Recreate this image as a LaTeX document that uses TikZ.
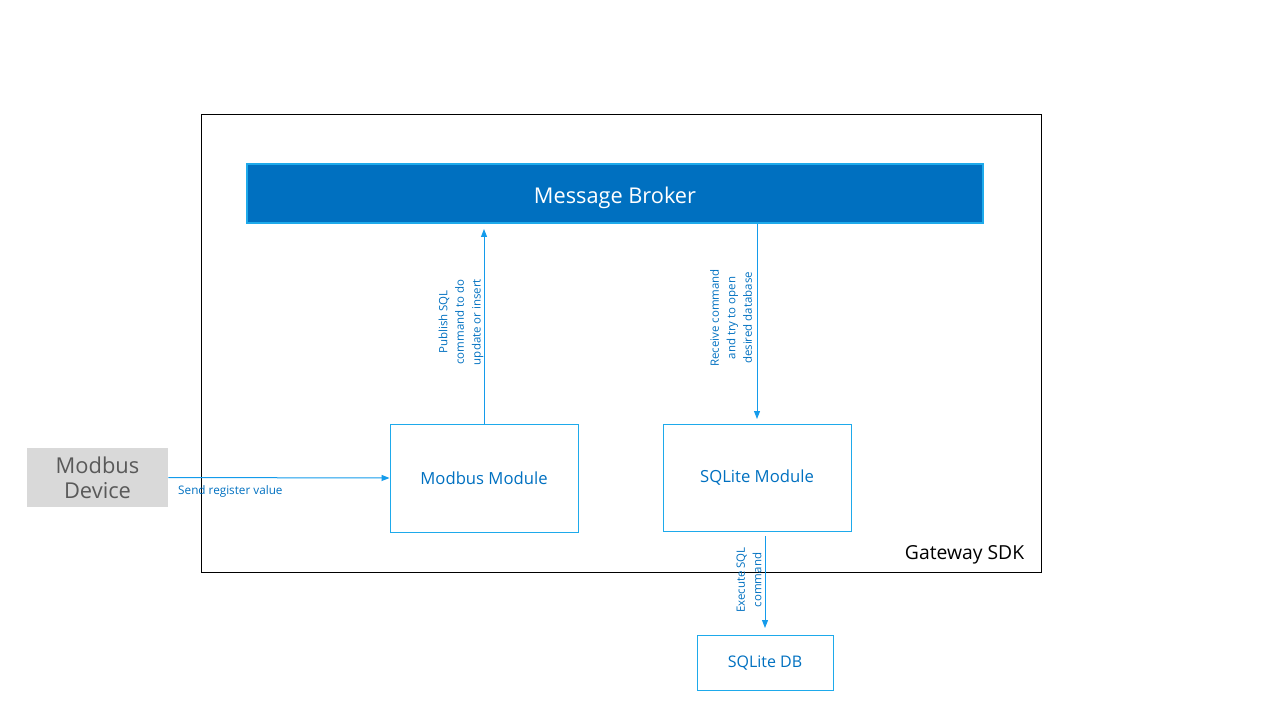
\documentclass[tikz,border=0pt]{standalone}
\usepackage{fontspec}
\setmainfont{Open Sans}
\usetikzlibrary{arrows.meta,shapes}
\definecolor{brokerblue}{RGB}{0,112,192}
\definecolor{linkblue}{RGB}{20,155,235}
\definecolor{edgeblue}{RGB}{30,170,235}
\definecolor{devgray}{RGB}{217,217,217}
\definecolor{devtext}{RGB}{89,89,89}

\begin{document}
\begin{tikzpicture}[>={Triangle[length=6pt,width=4.5pt]},x=0.75pt,y=-0.75pt,semithick,
    module/.style={shape=rectangle,draw=edgeblue,line width=0.75pt,text=brokerblue,font=\fontsize{12.5}{15}\selectfont},
    note/.style={text=brokerblue,font=\fontsize{8.6}{12.4}\selectfont,align=center,rotate=90,inner sep=0pt},
    link/.style={->,color=linkblue,line width=0.75pt}]
            \useasboundingbox (0,0) rectangle (1280,720);
            \draw[black,line width=0.75pt] (201,115) rectangle (1041,572);
            \node[anchor=base east,font=\fontsize{14.5}{18}\selectfont](SDK)at(1029,559){Gateway SDK};
            \node[shape=rectangle,fill=brokerblue,draw=edgeblue,line width=0.9pt,minimum width=736*0.75pt,minimum height=59*0.75pt,text=white,text height=15pt,text depth=0pt,font=\fontsize{16.3}{19}\selectfont](Broker)at(615,193.5){Message Broker};
            \node[module,minimum width=188*0.75pt,minimum height=108*0.75pt](Modbus)at(484,478){Modbus Module};
            \node[module,minimum width=188*0.75pt,minimum height=107*0.75pt](SQLite)at(757,477.5){SQLite Module};
            \node[module,minimum width=136*0.75pt,minimum height=55*0.75pt,font=\fontsize{12}{14}\selectfont](DB)at(765,662.5){SQLite DB};
            \node[shape=rectangle,fill=devgray,minimum width=141*0.75pt,minimum height=59*0.75pt,text=devtext,align=center,font=\fontsize{16.4}{19}\selectfont](Device)at(97.5,477.5){Modbus\\Device};
            \coordinate (BrokerIn) at (484,229);
            \coordinate (SQLiteIn) at (757,419);
            \coordinate (DBIn) at (765,628);
            \coordinate (DBOut) at (765,536);
            \path[every edge/.append style={link}](Device.east) edge node[pos=0,anchor=north west,text=brokerblue,font=\fontsize{8.8}{10}\selectfont,inner sep=0pt,yshift=-6pt,xshift=7pt]{Send register value} (Modbus.west)
            (Modbus.north) edge (BrokerIn)
            (Broker.south -| SQLiteIn) edge (SQLiteIn)
            (DBOut) edge (DBIn);
            \node[note](PublishNote)at(461,322){Publish SQL\\command to do\\update or insert};
            \node[note](ReceiveNote)at(731,318){Receive command\\and try to open\\desired database};
            \node[note](ExecuteNote)at(749,580){Execute SQL\\command};
        \end{tikzpicture}
\end{document}
